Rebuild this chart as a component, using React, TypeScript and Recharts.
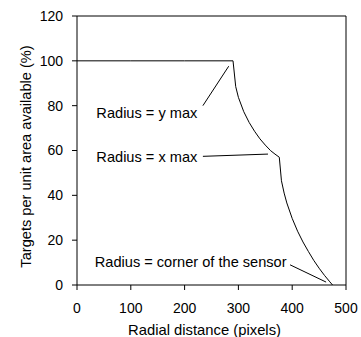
import {
  LineChart,
  Line,
  XAxis,
  YAxis,
  ReferenceLine,
  ReferenceDot,
} from "recharts";

// radial distance (pixels) and targets available (%)
const radialDistance = [0, 100, 200, 290, 295, 300, 310, 320, 330, 340, 350, 360, 368, 376, 380, 385, 390, 400, 410, 420, 430, 440, 450, 460, 470, 475];
const targetsPct = [100, 100, 100, 100, 88.5, 83.7, 77.3, 72.5, 68.6, 65.2, 62.4, 59.9, 58.4, 57, 46.5, 41, 36.6, 29.7, 24, 19.2, 15, 11, 7.5, 4.3, 1.4, 0];

const xTicks = [0, 100, 200, 300, 400, 500];
const yTicks = [0, 20, 40, 60, 80, 100, 120];

const annotations = [
  { text: "Radius = y max", x: 36, y: 77, from: [234, 80], to: [282, 97.6] },
  { text: "Radius = x max", x: 36, y: 57.3, from: [234, 57.4], to: [355, 58.4] },
  { text: "Radius = corner of the sensor", x: 33, y: 10.4, from: [396, 9], to: [463, 1.3] },
];

const data = radialDistance.map((r, i) => ({ r, pct: targetsPct[i] }));

const FONT = "Arial, 'Liberation Sans', sans-serif";
const tickStyle = { fill: "#000", fontSize: 14, fontFamily: FONT };

const YTitle = (props: any) => {
  const { viewBox } = props;
  const x = viewBox.x + 12;
  const y = viewBox.y + viewBox.height / 2 + 6;
  return (
    <text x={x} y={y} transform={`rotate(-90, ${x}, ${y})`} textAnchor="middle" dominantBaseline="central" fill="#000" fontSize={14.6} fontFamily={FONT}>
      Targets per unit area available (%)
    </text>
  );
};

const XTitle = (props: any) => {
  const { viewBox } = props;
  return (
    <text x={viewBox.x + viewBox.width / 2 - 7} y={viewBox.y + 50} textAnchor="middle" fill="#000" fontSize={14.8} fontFamily={FONT}>
      Radial distance (pixels)
    </text>
  );
};

export default function App() {
  return (
    <div style={{ position: "absolute", left: 0, top: 0, background: "#fff" }}>
      <LineChart width={361} height={337} data={data} margin={{ top: 16, right: 15, bottom: 7, left: 14 }}>
        <XAxis
          dataKey="r"
          type="number"
          domain={[0, 500]}
          ticks={xTicks}
          tick={tickStyle}
          tickSize={5}
          tickMargin={13}
          height={45}
          axisLine={{ stroke: "#000" }}
          tickLine={{ stroke: "#000" }}
          label={<XTitle />}
        />
        <YAxis
          type="number"
          domain={[0, 120]}
          ticks={yTicks}
          tick={tickStyle}
          tickSize={5}
          tickMargin={9}
          width={63}
          axisLine={{ stroke: "#000" }}
          tickLine={{ stroke: "#000" }}
          label={<YTitle />}
        />
        <ReferenceLine y={120} stroke="#000" />
        <ReferenceLine x={500} stroke="#000" />
        {annotations.map((a) => (
          <ReferenceLine
            key={a.text + "-line"}
            segment={[{ x: a.from[0], y: a.from[1] }, { x: a.to[0], y: a.to[1] }]}
            stroke="#000"
            ifOverflow="visible"
          />
        ))}
        {annotations.map((a) => (
          <ReferenceDot
            key={a.text}
            x={a.x}
            y={a.y}
            r={0}
            fill="none"
            stroke="none"
            label={{ value: a.text, position: "right", offset: 0, fill: "#000", fontSize: 14.6, fontFamily: FONT }}
          />
        ))}
        <Line
          dataKey="pct"
          type="linear"
          stroke="#000"
          strokeWidth={1}
          dot={false}
          isAnimationActive={false}
        />
      </LineChart>
    </div>
  );
}
